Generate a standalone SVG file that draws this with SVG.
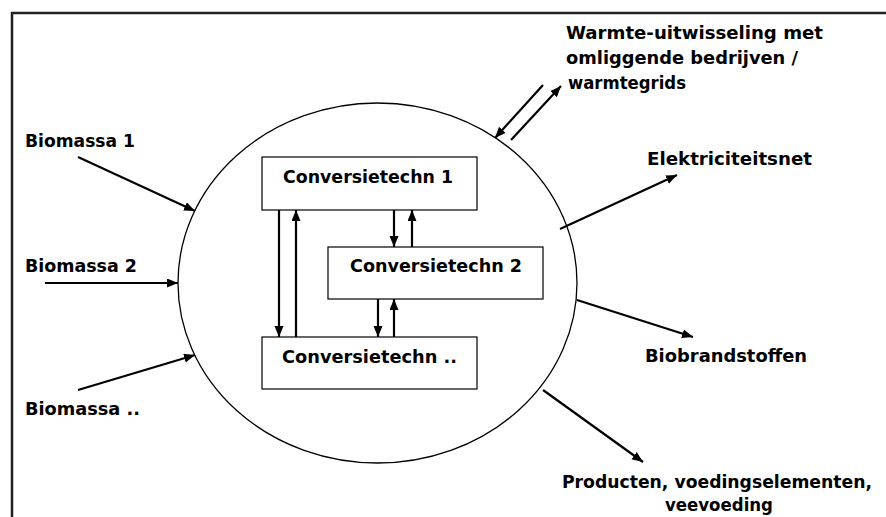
<svg xmlns="http://www.w3.org/2000/svg" width="886" height="517" viewBox="0 0 886 517">
<style>
text{font-family:"DejaVu Sans","Liberation Sans",sans-serif;font-weight:bold;font-size:17px;fill:#000}
.box{fill:#fff;stroke:#000;stroke-width:1.2}
.ar{stroke:#000;stroke-width:2.2;fill:none;marker-end:url(#ah)}
.mid{text-anchor:middle}
</style>
<defs>
<marker id="ah" markerUnits="userSpaceOnUse" markerWidth="12" markerHeight="10" refX="11" refY="4.5" orient="auto"><path d="M0,0 L11,4.5 L0,9 z" fill="#000"/></marker>
</defs>
<rect width="886" height="517" fill="#fff"/>
<path d="M12,517 V13 H886" fill="none" stroke="#222" stroke-width="2.5"/>
<g id="system"><ellipse cx="377.5" cy="283" rx="199.5" ry="180" fill="none" stroke="#000" stroke-width="1.3"/></g>
<g id="conv1"><rect class="box" x="262" y="157" width="215" height="53"/><text class="mid" x="368" y="183" textLength="170" lengthAdjust="spacingAndGlyphs">Conversietechn 1</text></g>
<g id="conv2"><rect class="box" x="328" y="247" width="215" height="52"/><text class="mid" x="436" y="272" textLength="172" lengthAdjust="spacingAndGlyphs">Conversietechn 2</text></g>
<g id="convn"><rect class="box" x="262" y="337" width="215" height="52"/><text class="mid" x="369.5" y="363" textLength="175" lengthAdjust="spacingAndGlyphs">Conversietechn ..</text></g>
<g id="labels">
<text x="566" y="39" textLength="257" lengthAdjust="spacingAndGlyphs">Warmte-uitwisseling met</text>
<text x="566" y="64" textLength="232" lengthAdjust="spacingAndGlyphs">omliggende bedrijven /</text>
<text x="568" y="89" textLength="118" lengthAdjust="spacingAndGlyphs">warmtegrids</text>
<text x="25" y="147" textLength="110" lengthAdjust="spacingAndGlyphs">Biomassa 1</text>
<text x="25" y="272" textLength="112" lengthAdjust="spacingAndGlyphs">Biomassa 2</text>
<text x="25" y="415" textLength="115" lengthAdjust="spacingAndGlyphs">Biomassa ..</text>
<text x="647" y="165" textLength="165" lengthAdjust="spacingAndGlyphs">Elektriciteitsnet</text>
<text x="645" y="362" textLength="162" lengthAdjust="spacingAndGlyphs">Biobrandstoffen</text>
<text x="562" y="488" textLength="310" lengthAdjust="spacingAndGlyphs">Producten, voedingselementen,</text>
<text x="665" y="511" textLength="108" lengthAdjust="spacingAndGlyphs">veevoeding</text>
</g>
<g id="connectors">
<line class="ar" x1="279" y1="210" x2="279" y2="337"/>
<line class="ar" x1="296" y1="337" x2="296" y2="210"/>
<line class="ar" x1="394" y1="210" x2="394" y2="247"/>
<line class="ar" x1="412" y1="247" x2="412" y2="210"/>
<line class="ar" x1="378" y1="299" x2="378" y2="337"/>
<line class="ar" x1="394" y1="337" x2="394" y2="299"/>
<line class="ar" x1="78" y1="157" x2="195" y2="211"/>
<line class="ar" x1="45" y1="283" x2="178" y2="283"/>
<line class="ar" x1="78" y1="390" x2="195" y2="355"/>
<line class="ar" x1="543" y1="85" x2="495" y2="138"/>
<line class="ar" x1="511" y1="140" x2="561" y2="86"/>
<line class="ar" x1="560" y1="229" x2="677" y2="175"/>
<line class="ar" x1="577" y1="300" x2="693" y2="337"/>
<line class="ar" x1="543" y1="390" x2="643" y2="462"/>
</g>
</svg>
